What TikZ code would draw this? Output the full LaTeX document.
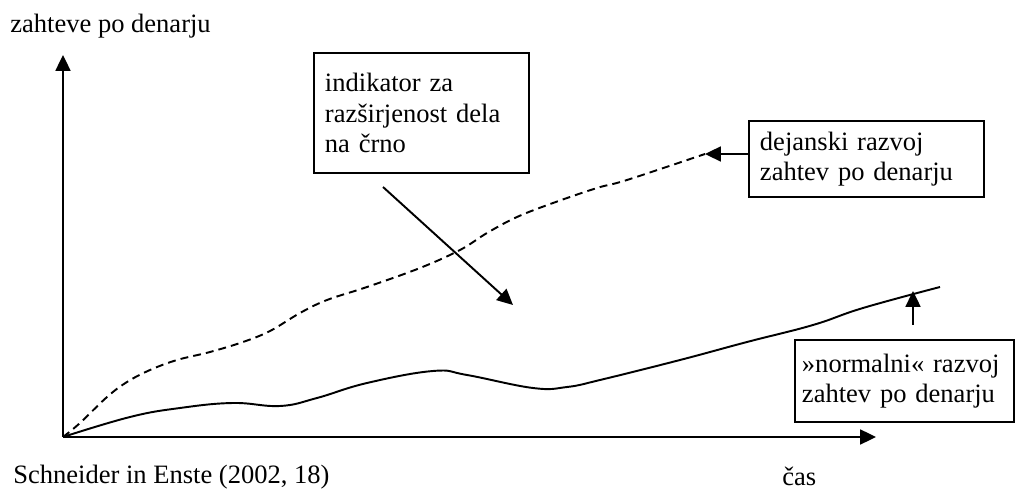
\documentclass[tikz,border=0pt]{standalone}
\usepackage{fontspec}
\setmainfont{Liberation Serif}
\usepackage{tikz}
\usetikzlibrary{arrows.meta, positioning, calc}

\begin{document}
\begin{tikzpicture}[x=0.02cm, y=-0.02cm,
    font=\fontsize{15.1}{17.4}\selectfont,
    arr/.style={line width=1.1pt, -{Triangle[length=9pt, width=8.5pt]}},
    txtbox/.style={draw, line width=1.1pt, align=left, anchor=north west, inner xsep=0.22cm},
    lbl/.style={anchor=base west, inner sep=0pt}]
  \useasboundingbox (0,0) rectangle (1017,492);

  % Axes
  \coordinate (O) at (63,437);
  \coordinate (ytip) at (63,55);
  \coordinate (xtip) at (876,437);
  \draw[arr] (O) -- (ytip);
  \draw[arr] (O) -- (xtip);
  \node[lbl] (ylabel) at (10,33) {zahteve po denarju};
  \node[lbl] (xlabel) at (782,486) {čas};

  % Actual demand (dashed)
  \coordinate (actEnd) at (705,154);
  \draw[line width=1.1pt, dash pattern=on 4.5pt off 2.9pt] plot[smooth, tension=0.6] coordinates {
    (63,437) (80,423) (107,397) (127,382) (150,370) (177,360) (210,352) (243,342)
    (270,331) (300,313) (327,300) (367,287) (420,268) (460,250) (487,233) (517,217)
    (553,203) (597,188) (627,180) (705,154)};

  % Normal demand (solid)
  \draw[line width=1.1pt] plot[smooth, tension=0.7] coordinates {
    (63,437) (130,417) (180,408) (233,403) (280,406) (317,398) (367,383) (433,371)
    (467,375) (533,388) (567,387) (600,380) (680,360) (747,342) (813,325) (863,308)
    (940,287)};

  % Boxes
  \node[txtbox, text width=3.86cm, minimum height=2.4cm] (indikator) at (313,52)
    {indikator za\\razširjenost dela\\na črno};
  \node[txtbox, text width=4.26cm, minimum height=1.52cm] (dejanski) at (748,120)
    {dejanski razvoj\\zahtev po denarju};
  \node[txtbox, text width=4.1cm, minimum height=1.64cm, inner xsep=0.14cm] (normalni) at (794,339)
    {\mbox{»normalni« razvoj}\\zahtev po denarju};

  % Pointers
  \coordinate (indStart) at (383,187);
  \coordinate (indTip) at (513,305);
  \draw[arr] (indStart) -- (indTip);
  \draw[arr] (dejanski.west |- actEnd) -- (actEnd);
  \coordinate (normStart) at (913,325);
  \coordinate (normTip) at (913,291);
  \draw[arr] (normStart) -- (normTip);

  % Source
  \node[lbl] (source) at (13,484) {Schneider in Enste (2002, 18)};
\end{tikzpicture}
\end{document}
